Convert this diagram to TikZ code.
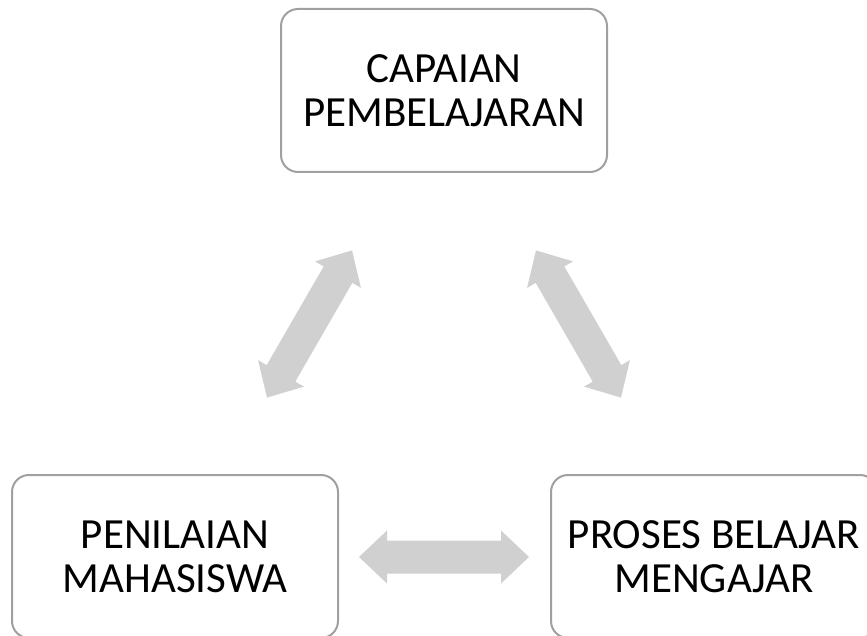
\documentclass[tikz,border=0pt]{standalone}
\usepackage{fontspec}
\setmainfont{Carlito}
\definecolor{boxline}{HTML}{A0A0A0}
\definecolor{arrowfill}{HTML}{D0D0D0}
\tikzset{
  stagebox/.style={draw=boxline, line width=2pt, fill=white, rounded corners=17pt,
    minimum width=326pt, minimum height=163pt, align=center, inner sep=0pt,
    font=\fontsize{43}{44}\selectfont},
  blockarrow/.style={fill=arrowfill, draw=none}
}
\newcommand{\dblockarrow}[2]{%
  \fill[blockarrow, shift={(#1)}, rotate=#2]
    (-85,0) -- (-57,26.5) -- (-57,16.5) -- (57,16.5) -- (57,26.5) -- (85,0)
    -- (57,-26.5) -- (57,-16.5) -- (-57,-16.5) -- (-57,-26.5) -- cycle;
}
\begin{document}
\begin{tikzpicture}[x=1pt,y=1pt]
  \useasboundingbox (0,0) rectangle (867,-636);
  \node[stagebox] (cp) at (444,-90.5) {CAPAIAN\\PEMBELAJARAN};
  \node[stagebox] (pm) at (175,-556.5) {PENILAIAN\\MAHASISWA};
  \node[stagebox] (pbm) at (714,-556.5) {PROSES BELAJAR\\MENGAJAR};
  \coordinate (aL) at (309.5,-324);
  \coordinate (aR) at (578.5,-324);
  \coordinate (aB) at (444,-557);
  \dblockarrow{aL}{60}
  \dblockarrow{aR}{-60}
  \dblockarrow{aB}{0}
\end{tikzpicture}
\end{document}
